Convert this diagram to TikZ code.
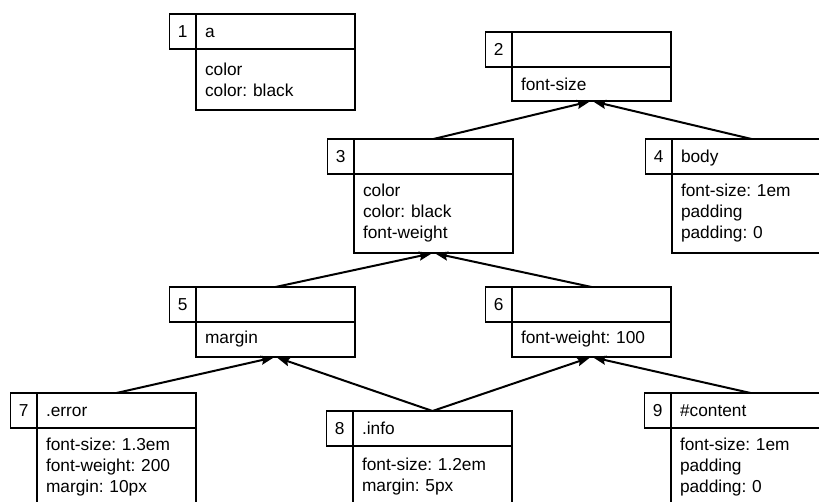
\documentclass[tikz,border=0pt]{standalone}
\usepackage{fontspec}
\setmainfont{Liberation Sans}
\frenchspacing
\usetikzlibrary{positioning,arrows.meta}
\tikzset{
cssfont/.style={font=\fontsize{17.3}{21}\selectfont},
headbox/.style={
  cssfont,
  draw, line width=1.2pt,
  outer sep=0pt,
  inner xsep=9pt, inner ysep=0pt,
  text width=141pt, align=left,
  minimum height=35pt,
  text height=12.5pt, text depth=0pt
  },
numbox/.style={
  cssfont,
  draw, line width=1.2pt,
  outer sep=0pt, inner sep=0pt,
  minimum width=26.5pt, minimum height=35pt,
  text height=12.5pt, text depth=0pt
  },
bodybox/.style={
  cssfont,
  draw, line width=1.2pt,
  outer sep=0pt,
  inner xsep=9pt, inner ysep=4pt,
  text width=141pt, align=left
  },
inherit/.style={
  -{Stealth[length=13pt,width=9pt,inset=2pt]},
  line width=2pt, shorten >=1.5pt
  },
}
\begin{document}
\begin{tikzpicture}[x=1pt,y=-1pt]
    \clip (0,0) rectangle (819,502);
    \fill[white] (0,0) rectangle (819,502);
    % number / selector / declarations / body height
    \foreach \n/\x/\y/\sel/\props/\bh in {
        1/196/14/a/{color\\color: black}/61,
        2/512/32/{}/{font-size}/34,
        3/354/139/{}/{color\\color: black\\font-weight}/79,
        4/672/139/body/{font-size: 1em\\padding\\padding: 0}/79,
        5/196/287/{}/{margin}/35,
        6/512/287/{}/{font-weight: 100}/35,
        7/37/393/.error/{font-size: 1.3em\\font-weight: 200\\margin: 10px}/79,
        8/353/411/.info/{font-size: 1.2em\\margin: 5px}/61,
        9/671/393/\#content/{font-size: 1em\\padding\\padding: 0}/79%
    }
    {
        \node[headbox, anchor=north west] (h\n) at (\x,\y) {\sel};
        \node[numbox, left=0pt of h\n] (n\n) {\n};
        \node[bodybox, minimum height=\bh, below=0pt of h\n] (b\n) {\props};
    }
    \draw[inherit] (h3.north) -- (b2.south);
    \draw[inherit] (h4.north) -- (b2.south);
    \draw[inherit] (h5.north) -- (b3.south);
    \draw[inherit] (h6.north) -- (b3.south);
    \draw[inherit] (h7.north) -- (b5.south);
    \draw[inherit] (h8.north) -- (b5.south);
    \draw[inherit] (h8.north) -- (b6.south);
    \draw[inherit] (h9.north) -- (b6.south);
\end{tikzpicture}
\end{document}
